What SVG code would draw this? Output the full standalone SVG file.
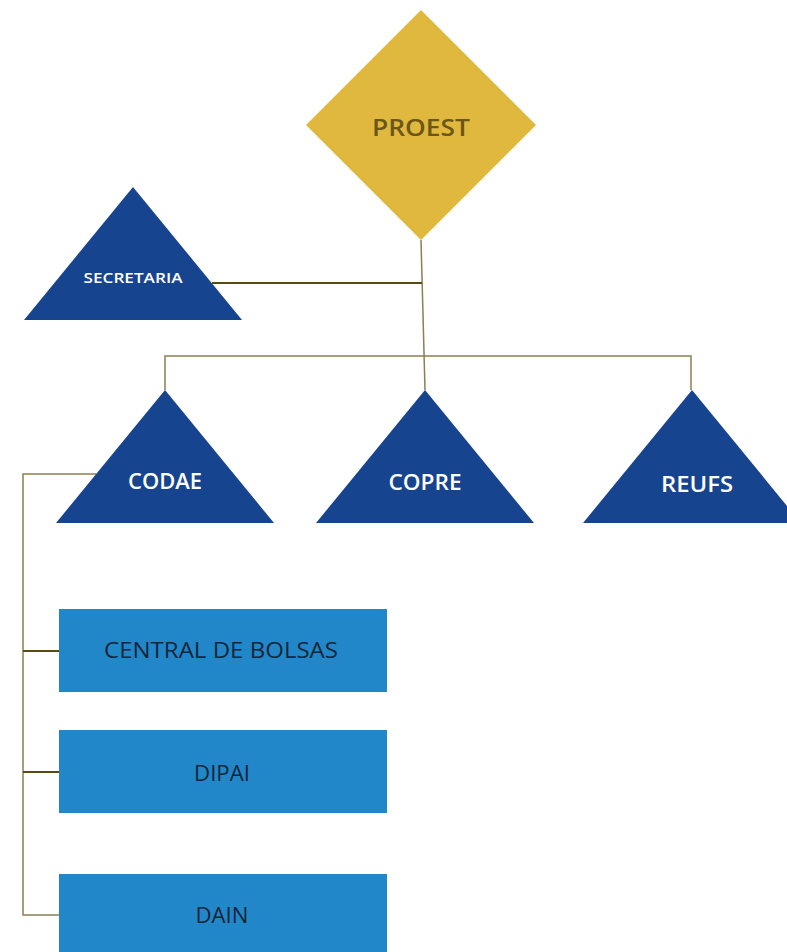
<svg xmlns="http://www.w3.org/2000/svg" width="787" height="952" viewBox="0 0 787 952">
<style>
.tri{fill:#17448e}
.box{fill:#2187c8}
.lt{font-family:"Open Sans","Liberation Sans",sans-serif;font-weight:600;fill:#ffffff;text-anchor:middle}
.bt{font-family:"Open Sans","Liberation Sans",sans-serif;font-weight:400;fill:#15253a;text-anchor:middle;font-size:22px}
.c1{stroke:#5a4b12;stroke-width:2;fill:none}
.c2{stroke:#8c7f50;stroke-width:1.5;fill:none}
</style>
<rect width="787" height="952" fill="#ffffff"/>
<g id="connectors">
<path class="c2" d="M421,240 L425,390"/>
<path class="c1" d="M212,283 L422,283"/>
<path class="c2" d="M165,390 L165,356 L691,356 L691,390"/>
<path class="c2" d="M96,474 L23,474 L23,915 L59,915"/>
<path class="c1" d="M23,651 L59,651"/>
<path class="c1" d="M23,772 L59,772"/>
</g>
<g id="proest">
<polygon points="421,10 536,125 421,240 306,125" fill="#e0b83e"/>
<text x="421" y="136" font-family="Open Sans, Liberation Sans, sans-serif" font-weight="600" font-size="23" fill="#6b5618" text-anchor="middle" textLength="98" lengthAdjust="spacingAndGlyphs">PROEST</text>
</g>
<g id="secretaria">
<polygon class="tri" points="133,187 242,320 24,320"/>
<text class="lt" x="133" y="283" font-size="14" textLength="99" lengthAdjust="spacingAndGlyphs">SECRETARIA</text>
</g>
<g id="codae">
<polygon class="tri" points="165,390 274,523 56,523"/>
<text class="lt" x="165" y="489" font-size="22" textLength="74" lengthAdjust="spacingAndGlyphs">CODAE</text>
</g>
<g id="copre">
<polygon class="tri" points="425,390 534,523 316,523"/>
<text class="lt" x="425" y="490" font-size="22" textLength="73" lengthAdjust="spacingAndGlyphs">COPRE</text>
</g>
<g id="reufs">
<polygon class="tri" points="692,390 801,523 583,523"/>
<text class="lt" x="697" y="492" font-size="22" textLength="72" lengthAdjust="spacingAndGlyphs">REUFS</text>
</g>
<g id="central">
<rect class="box" x="59" y="609" width="328" height="83"/>
<text class="bt" x="221" y="658" textLength="234" lengthAdjust="spacingAndGlyphs">CENTRAL DE BOLSAS</text>
</g>
<g id="dipai">
<rect class="box" x="59" y="730" width="328" height="83"/>
<text class="bt" x="222" y="781" textLength="56" lengthAdjust="spacingAndGlyphs">DIPAI</text>
</g>
<g id="dain">
<rect class="box" x="59" y="874" width="328" height="78"/>
<text class="bt" x="222" y="923" textLength="53" lengthAdjust="spacingAndGlyphs">DAIN</text>
</g>
</svg>
